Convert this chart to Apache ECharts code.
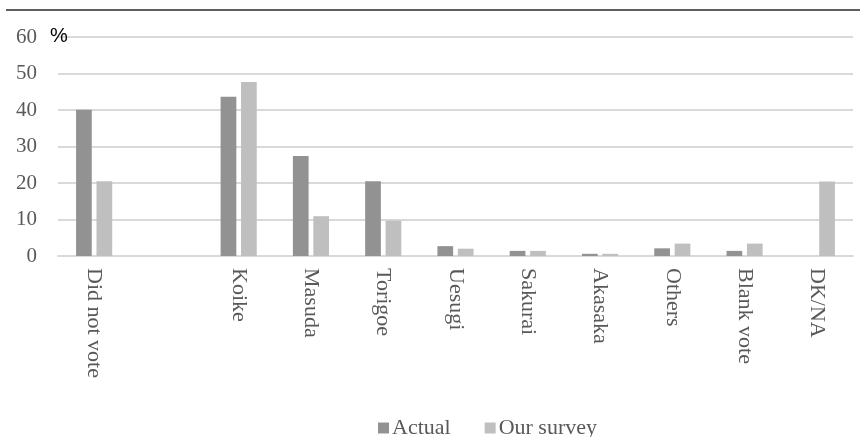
<!DOCTYPE html>
<html>
<head>
<meta charset="utf-8">
<script src="https://cdn.jsdelivr.net/npm/echarts@6/dist/echarts.min.js"></script>
<style>
  html, body { margin: 0; padding: 0; background: #fff; }
  #chart { width: 860px; height: 437px; }
</style>
</head>
<body>
<div id="chart"></div>
<script>
// Tokyo gubernatorial election: actual results vs. survey responses (%)
const categories = ['Did not vote', '', 'Koike', 'Masuda', 'Torigoe', 'Uesugi', 'Sakurai', 'Akasaka', 'Others', 'Blank vote', 'DK/NA'];
const actual    = [40.1, null, 43.6, 27.4, 20.5, 2.7, 1.4, 0.6, 2.1, 1.4, null];
const ourSurvey = [20.5, null, 47.7, 10.9, 9.7, 2.0, 1.4, 0.6, 3.4, 3.4, 20.4];
const seriesNames = ['Actual', 'Our survey'];
const yTicks = { min: 0, max: 60, interval: 10 };

const serif = '"Liberation Serif", "DejaVu Serif", serif';
const textGray = '#595959';

const chart = echarts.init(document.getElementById('chart'), null, { renderer: 'canvas' });
chart.setOption({
  animation: false,
  grid: { left: 58, right: 7, top: 37, bottom: 181, containLabel: false },
  legend: {
    top: 417,
    left: 378,
    padding: 0,
    itemWidth: 11,
    itemHeight: 11,
    itemGap: 34,
    icon: 'rect',
    textStyle: { fontFamily: serif, fontSize: 22, color: textGray, padding: [0, 0, 0, -2] },
    data: seriesNames
  },
  xAxis: {
    type: 'category',
    data: categories,
    axisLine: { show: true, lineStyle: { color: '#d9d9d9', width: 2 } },
    axisTick: { show: false },
    axisLabel: {
      interval: 0,
      rotate: -90,
      margin: 12,
      fontFamily: serif,
      fontSize: 22,
      color: textGray
    }
  },
  yAxis: {
    type: 'value',
    min: yTicks.min,
    max: yTicks.max,
    interval: yTicks.interval,
    axisLine: { show: false },
    axisTick: { show: false },
    splitLine: { lineStyle: { color: '#d9d9d9', width: 2 } },
    axisLabel: { fontFamily: serif, fontSize: 21, color: textGray, margin: 21 }
  },
  graphic: [
    {
      type: 'line',
      shape: { x1: 6, y1: 10, x2: 860, y2: 10 },
      style: { stroke: '#5f5f5f', lineWidth: 2 }
    },
    {
      type: 'text',
      left: 50,
      top: 26,
      z: 10,
      style: { text: '%', fontFamily: '"Liberation Sans", Arial, sans-serif', fontSize: 20, fill: '#000' }
    }
  ],
  series: [
    {
      name: seriesNames[0],
      type: 'bar',
      data: actual,
      barGap: '30%',
      barCategoryGap: '50%',
      itemStyle: { color: '#929292' }
    },
    {
      name: seriesNames[1],
      type: 'bar',
      data: ourSurvey,
      itemStyle: { color: '#bfbfbf' }
    }
  ]
});
</script>
</body>
</html>
